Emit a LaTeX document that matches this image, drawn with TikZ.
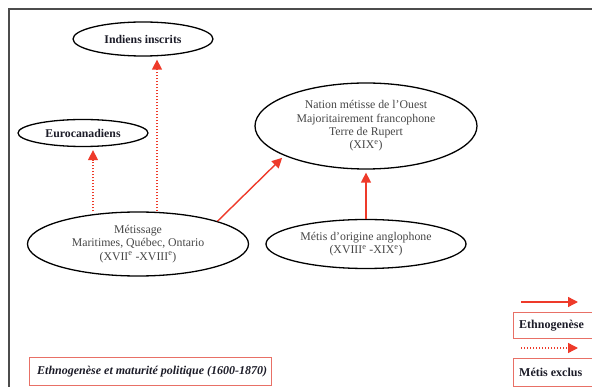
\documentclass[tikz,border=0pt]{standalone}
\usepackage{fontspec}
\setmainfont{Liberation Serif}
\usetikzlibrary{shapes.geometric,arrows.meta}
\definecolor{flecherouge}{RGB}{238,58,42}
\definecolor{cadrerouge}{RGB}{232,112,102}
\definecolor{texte}{RGB}{70,70,70}
\definecolor{titre}{RGB}{28,28,40}

\begin{document}
\begin{tikzpicture}[x=1pt,y=-1pt,
  groupe/.style={ellipse,draw,line width=1.3pt,inner sep=0pt,align=center,
    text=texte,font=\fontsize{11.8}{13.3}\selectfont},
  peuple/.style={groupe,text=titre,font=\fontsize{11.8}{13}\selectfont\bfseries},
  ethno/.style={draw=flecherouge,line width=1.4pt,
    -{Triangle[length=10pt,width=10pt]},shorten >=3pt},
  exclu/.style={ethno,dash pattern=on 1.4pt off 1.6pt},
  legende/.style={draw=cadrerouge,line width=1pt,inner sep=0pt},
  legtexte/.style={anchor=west,text=titre,inner sep=0pt,
    font=\fontsize{12}{13}\selectfont\bfseries}]
  \clip (0,0) rectangle (592,387);
  \useasboundingbox (0,0) rectangle (592,387);
  \draw[line width=1.5pt,black!70] (9,400) -- (9,9) -- (600,9);

  % ellipses
  \node[peuple,minimum width=140,minimum height=34] (indiens) at (143,39) {Indiens inscrits};
  \node[peuple,minimum width=130,minimum height=27] (euro) at (83,133) {Eurocanadiens};
  \node[groupe,minimum width=221,minimum height=64] (metissage) at (138,244)
    {Métissage\\Maritimes, Québec, Ontario\\(XVII\textsuperscript{e} -XVIII\textsuperscript{e})};
  \node[groupe,minimum width=222,minimum height=86] (nation) at (366,126)
    {Nation métisse de l'Ouest\\Majoritairement francophone\\Terre de Rupert\\(XIX\textsuperscript{e})};
  \node[groupe,minimum width=200,minimum height=49] (anglo) at (366,244)
    {Métis d'origine anglophone\\(XVIII\textsuperscript{e} -XIX\textsuperscript{e})};

  % fleches
  \draw[exclu] ([xshift=-45pt]metissage.north) -- ([xshift=-45pt]metissage.north |- euro.south);
  \draw[exclu] ([xshift=19pt]metissage.north) -- ([xshift=19pt]metissage.north |- indiens.south);
  \draw[ethno] (metissage.16) -- (nation.200);
  \draw[ethno] (anglo.north) -- (nation.south);

  % legende
  \node[legende,anchor=north west,minimum width=242,minimum height=28] (periode) at (29,357) {};
  \node[legtexte,font=\fontsize{12}{13}\selectfont\bfseries\itshape]
    (periodetxt) at ([xshift=8pt]periode.west) {Ethnogenèse et maturité politique (1600-1870)};
  \node[legende,anchor=north west,minimum width=80,minimum height=26] (legethno) at (513,312) {};
  \node[legtexte] (legethnotxt) at ([xshift=6pt]legethno.west) {Ethnogenèse};
  \node[legende,anchor=north west,minimum width=80,minimum height=28] (legexclu) at (513,358) {};
  \node[legtexte] (legexclutxt) at ([xshift=6pt]legexclu.west) {Métis exclus};
  \coordinate (ethA) at (521,302);
  \coordinate (ethB) at (581,302);
  \coordinate (excA) at (521,348);
  \coordinate (excB) at (581,348);
  \draw[ethno] (ethA) -- (ethB);
  \draw[exclu] (excA) -- (excB);
\end{tikzpicture}
\end{document}
